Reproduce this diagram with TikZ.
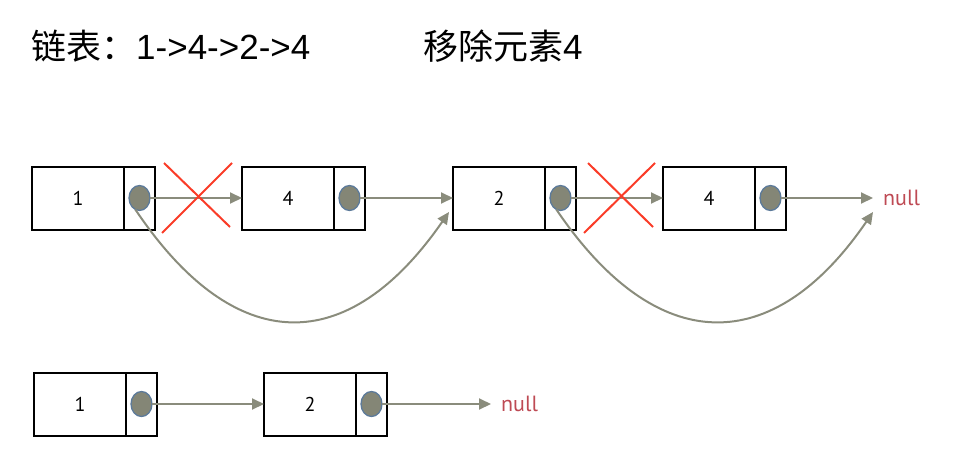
\documentclass[tikz,border=0pt]{standalone}
\usepackage{fontspec}
\setmainfont{Liberation Sans}
\newfontfamily\cjk{Noto Sans CJK SC}
\newfontfamily\numfont{PT Sans}
\usetikzlibrary{arrows.meta,shapes.geometric,calc}
\definecolor{linkc}{RGB}{138,140,124}
\definecolor{dotfill}{RGB}{132,134,118}
\definecolor{dotedge}{RGB}{92,122,154}
\definecolor{nullc}{RGB}{190,74,84}
\definecolor{crossc}{RGB}{250,60,40}
\begin{document}
\begin{tikzpicture}[x=1pt,y=-1pt,
  valbox/.style={draw, line width=2pt, minimum width=92pt, minimum height=63pt,
    inner sep=0pt, outer sep=0pt, anchor=west, font=\numfont\fontsize{20}{20}\selectfont},
  ptrbox/.style={draw, line width=2pt, minimum width=31pt, minimum height=63pt,
    inner sep=0pt, outer sep=0pt, anchor=west},
  dot/.style={ellipse, draw=dotedge, fill=dotfill, line width=1.3pt,
    minimum width=21pt, minimum height=25pt, inner sep=0pt, outer sep=0pt},
  link/.style={draw=linkc, line width=2pt, -{Triangle[length=12pt,width=11pt]}},
  nulltxt/.style={text=nullc, anchor=west, inner sep=0pt, inner xsep=10pt,
    font=\numfont\fontsize{22}{22}\selectfont},
  cross/.style={draw=crossc, line width=2pt},
  title/.style={anchor=west, inner sep=0pt, font=\fontsize{35}{35}\selectfont}
]
\useasboundingbox (0,0) rectangle (968,468);

% titles
\node[title] (t1) at (31,46) {{\cjk 链表：}1->4->2->4};
\node[title] (t2) at (423,46) {{\cjk 移除元素}4};

% top row
\node[valbox] (v1) at (32,198) {1};
\node[ptrbox] (p1) at (v1.east) {};
\node[dot] (c1) at (p1.center) {};

\node[valbox] (v2) at (242,198) {4};
\node[ptrbox] (p2) at (v2.east) {};
\node[dot] (c2) at (p2.center) {};

\node[valbox] (v3) at (453,198) {2};
\node[ptrbox] (p3) at (v3.east) {};
\node[dot] (c3) at (p3.center) {};

\node[valbox] (v4) at (663,198) {4};
\node[ptrbox] (p4) at (v4.east) {};
\node[dot] (c4) at (p4.center) {};

\node[nulltxt] (null1) at (873,198) {null};

\draw[link] (c1.east) -- (v2.west);
\draw[link] (c2.east) -- (v3.west);
\draw[link] (c3.east) -- (v4.west);
\draw[link] (c4.east) -- (null1.west);

\coordinate (e1) at ($(v3.west)+(-4,14)$);
\coordinate (e2) at ($(null1.west)+(0,14)$);
\draw[link] (c1.250) .. controls (235,358) and (348,358) .. (e1);
\draw[link] (c3.250) .. controls (657,358) and (773,358) .. (e2);

% crosses
\draw[cross] (164,163) -- (230,227);
\draw[cross] (232,163) -- (162,233);
\draw[cross] (588,163) -- (653,227);
\draw[cross] (655,163) -- (584,233);

% bottom row
\node[valbox] (b1) at (34,404) {1};
\node[ptrbox] (q1) at (b1.east) {};
\node[dot] (d1) at (q1.center) {};

\node[valbox] (b2) at (264,404) {2};
\node[ptrbox] (q2) at (b2.east) {};
\node[dot] (d2) at (q2.center) {};

\node[nulltxt] (null2) at (491,404) {null};

\draw[link] (d1.east) -- (b2.west);
\draw[link] (d2.east) -- (null2.west);
\end{tikzpicture}
\end{document}
